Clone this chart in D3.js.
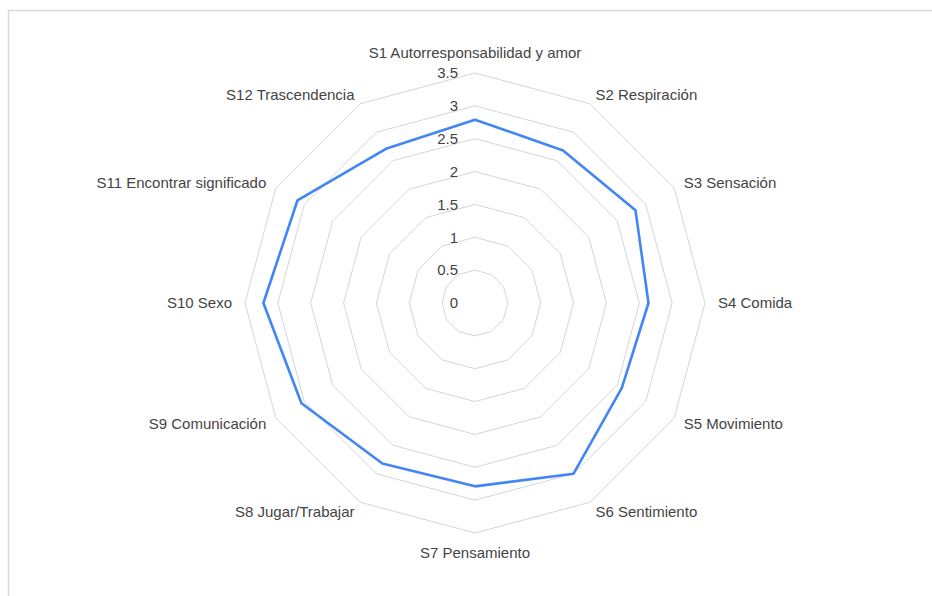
<!DOCTYPE html>
<html>
<head>
<meta charset="utf-8">
<script src="https://cdn.jsdelivr.net/npm/d3@7"></script>
<style>
  body { margin: 0; background: #fff; }
  svg { display: block; }
</style>
</head>
<body>
<script>
const categories = [
  "S1 Autorresponsabilidad y amor",
  "S2 Respiración",
  "S3 Sensación",
  "S4 Comida",
  "S5 Movimiento",
  "S6 Sentimiento",
  "S7 Pensamiento",
  "S8 Jugar/Trabajar",
  "S9 Comunicación",
  "S10 Sexo",
  "S11 Encontrar significado",
  "S12 Trascendencia"
];

const values = [2.79, 2.68, 2.82, 2.64, 2.58, 3.0, 2.79, 2.82, 3.05, 3.22, 3.12, 2.71];

const tickValues = [0, 0.5, 1, 1.5, 2, 2.5, 3, 3.5];

const width = 932, height = 596;
const cx = 475, cy = 303;
const radius = 230;

const svg = d3.select('body').append('svg')
  .attr('width', width)
  .attr('height', height);

// frame
svg.append('path')
  .attr('d', `M8.5,${height}V10.5H${width}`)
  .attr('fill', 'none')
  .attr('stroke', '#d9d9d9')
  .attr('stroke-width', 1.5);

const rScale = d3.scaleLinear().domain([0, 3.5]).range([0, radius]);
const angle = i => i * 2 * Math.PI / categories.length;

const g = svg.append('g').attr('transform', `translate(${cx},${cy})`);

const radial = d3.lineRadial()
  .angle((d, i) => angle(i))
  .radius(d => rScale(d))
  .curve(d3.curveLinearClosed);

// grid polygons
g.selectAll('path.grid')
  .data(tickValues.filter(t => t > 0))
  .join('path')
    .attr('class', 'grid')
    .attr('d', t => radial(categories.map(() => t)))
    .attr('fill', 'none')
    .attr('stroke', '#d6d6d6')
    .attr('stroke-width', 1);

// tick labels
g.selectAll('text.tick')
  .data(tickValues)
  .join('text')
    .attr('class', 'tick')
    .attr('x', -17)
    .attr('y', t => -rScale(t))
    .attr('dy', '0.35em')
    .attr('text-anchor', 'end')
    .attr('font-family', 'Liberation Sans, Arial, sans-serif')
    .attr('font-size', 15)
    .attr('fill', '#444')
    .text(t => t);

// data line
g.append('path')
  .attr('d', radial(values))
  .attr('fill', 'none')
  .attr('stroke', '#4285f4')
  .attr('stroke-width', 2.6)
  .attr('stroke-linejoin', 'round');

// category labels
const labelR = 241;
g.selectAll('text.cat')
  .data(categories)
  .join('text')
    .attr('class', 'cat')
    .attr('x', (d, i) => {
      const s = Math.sin(angle(i));
      return labelR * s + (Math.abs(s) > 0.99 ? s * 2 : 0);
    })
    .attr('y', (d, i) => {
      const c = -Math.cos(angle(i));
      return labelR * c + (Math.abs(c) > 0.99 ? c * 9 : 0);
    })
    .attr('dy', '0.35em')
    .attr('text-anchor', (d, i) => {
      const s = Math.sin(angle(i));
      return Math.abs(s) < 0.01 ? 'middle' : (s > 0 ? 'start' : 'end');
    })
    .attr('font-family', 'Liberation Sans, Arial, sans-serif')
    .attr('font-size', 15)
    .attr('fill', '#444')
    .text(d => d);
</script>
</body>
</html>
